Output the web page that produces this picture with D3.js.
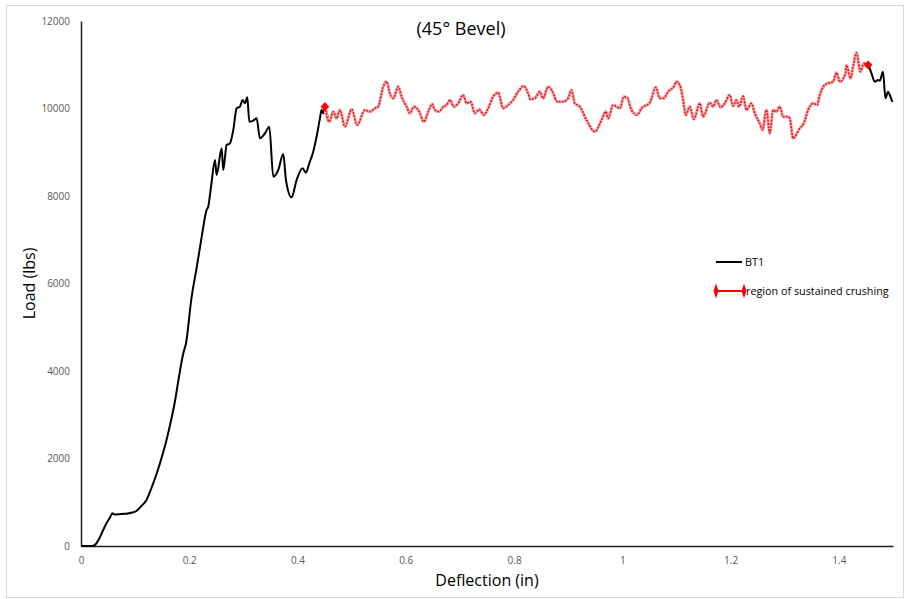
<!DOCTYPE html>
<html>
<head>
<meta charset="utf-8">
<script src="https://cdn.jsdelivr.net/npm/d3@7"></script>
<style>
  body { margin: 0; background: #fff; }
  svg { display: block; font-family: 'Open Sans', sans-serif; }
</style>
</head>
<body>
<svg id="chart" width="904" height="599"></svg>
<script>
// deflection (in) and load (lbs)
var deflection = [
  0, 0.02, 0.026, 0.035, 0.041, 0.047, 0.053, 0.058, 0.062, 0.08, 0.095, 0.103,
  0.112, 0.121, 0.13, 0.14, 0.149, 0.158, 0.166, 0.174, 0.18, 0.189, 0.194, 0.204,
  0.214, 0.223, 0.232, 0.235, 0.241, 0.2475, 0.2505, 0.2598, 0.2628, 0.269, 0.2752,
  0.2813, 0.2875, 0.2936, 0.2985, 0.3029, 0.3072, 0.3109, 0.3183, 0.3244, 0.3306,
  0.3398, 0.3478, 0.3552, 0.3644, 0.3736, 0.3786, 0.389, 0.3983, 0.4094, 0.4155,
  0.4217, 0.429, 0.4352, 0.4414, 0.4444, 0.4475, 0.4506,
  0.4586, 0.466, 0.4722, 0.4783, 0.4875, 0.4999, 0.5103, 0.5245, 0.5337, 0.5429,
  0.549, 0.5583, 0.5645, 0.5706, 0.5768, 0.586, 0.5922, 0.6015, 0.6076, 0.615,
  0.623, 0.6334, 0.6414, 0.6488, 0.6537, 0.6617, 0.6691, 0.6753, 0.6814, 0.6888,
  0.6968, 0.706, 0.7123, 0.7197, 0.7276, 0.7356, 0.7442, 0.7522, 0.7614, 0.7707,
  0.7799, 0.7891, 0.7983, 0.8076, 0.818, 0.826, 0.8304, 0.8384, 0.8476, 0.8537,
  0.863, 0.871, 0.8796, 0.8907, 0.8999, 0.9061, 0.9122, 0.9215, 0.9338, 0.9492,
  0.9616, 0.9695, 0.9738, 0.983, 0.9954, 1.0028, 1.0089, 1.0169, 1.0274, 1.0354,
  1.0508, 1.0619, 1.0693, 1.0766, 1.0846, 1.0951, 1.1, 1.1062, 1.1123, 1.1172,
  1.1246, 1.132, 1.1431, 1.1492, 1.1616, 1.1677, 1.1739, 1.1813, 1.1893, 1.1985,
  1.2046, 1.2108, 1.2157, 1.2231, 1.2293, 1.2385, 1.2447, 1.2539, 1.2589, 1.2662,
  1.2724, 1.2785, 1.2847, 1.2909, 1.297, 1.3062, 1.3093, 1.3154, 1.3278, 1.3352,
  1.3431, 1.3524, 1.3598, 1.3647, 1.3721, 1.3801, 1.3893, 1.3955, 1.4017, 1.4122,
  1.4141, 1.4215, 1.4264, 1.4325, 1.4399, 1.446, 1.454,
  1.4602, 1.4663, 1.4725, 1.4755, 1.4816, 1.486, 1.4909, 1.494, 1.499
];
var load = [
  0, 0, 30, 200, 366, 518, 640, 747, 720, 735, 765, 807,
  920, 1051, 1320, 1662, 2020, 2423, 2850, 3337, 3794, 4405, 4633, 5661,
  6384, 7070, 7680, 7756, 8290, 8823, 8480, 9090, 8594, 9166, 9204,
  9509, 10004, 10042, 10194, 10118, 10255, 9699, 9722, 9775, 9319,
  9433, 9585, 8442, 8594, 8960, 8366, 7970, 8366, 8633, 8533,
  8747, 9013, 9356, 9775, 9966, 9890, 10042,
  9699, 9927, 9775, 9966, 9585, 9981, 9623, 9966, 9927, 10004,
  10042, 10499, 10613, 10347, 10233, 10499, 10270, 10042, 9890, 10042,
  9966, 9699, 9927, 10103, 9966, 9927, 10042, 10080, 10194, 10042,
  10118, 10309, 10118, 10156, 9890, 9981, 9851, 10004, 10270, 10362,
  10004, 10080, 10194, 10385, 10514, 10347, 10210, 10233, 10385, 10233,
  10499, 10385, 10156, 10156, 10233, 10423, 10118, 10042, 9737, 9471,
  9737, 9927, 9775, 10080, 10004, 10270, 10247, 9966, 9851, 10004,
  10133, 10484, 10233, 10233, 10385, 10499, 10613, 10537, 10194, 9851,
  10042, 9753, 10118, 9813, 10133, 10042, 10194, 10027, 10118, 10309,
  10057, 10194, 10042, 10286, 9966, 10118, 9890, 9661, 9509, 9966,
  9433, 9966, 9927, 10042, 9813, 9813, 9775, 9319, 9547, 9661,
  9966, 10118, 10080, 10309, 10514, 10576, 10613, 10819, 10613, 10804,
  10994, 10690, 10956, 11276, 10842, 11033, 10994,
  10804, 10613, 10651, 10636, 10842, 10233, 10385, 10309, 10150
];
// start and end of the region of sustained crushing
var crushStart = 0.4506;
var crushEnd = 1.454;

var xTicks = [0, 0.2, 0.4, 0.6, 0.8, 1, 1.2, 1.4];
var yTicks = [0, 2000, 4000, 6000, 8000, 10000, 12000];
var seriesNames = ['BT1', 'region of sustained crushing'];

var svg = d3.select('#chart');
var margin = { top: 21, right: 11, bottom: 53, left: 81 };
var width = +svg.attr('width') - margin.left - margin.right;
var height = +svg.attr('height') - margin.top - margin.bottom;

var points = deflection.map(function(d, i) {
  return { x: d, y: load[i] };
});
var crushPoints = points.filter(function(d) {
  return d.x >= crushStart && d.x <= crushEnd;
});

// outer chart border
svg.append('rect')
  .attr('x', 6.5)
  .attr('y', 5.5)
  .attr('width', 897)
  .attr('height', 592)
  .attr('fill', 'none')
  .attr('stroke', '#d9d9d9');

var x = d3.scaleLinear().domain([0, 1.5]).range([0, width]);
var y = d3.scaleLinear().domain([0, 12000]).range([height, 0]);

var group = svg.append('g')
  .attr('transform', 'translate(' + margin.left + ', ' + margin.top + ')');

/*
 * Axes
 */
group.append('g')
  .attr('class', 'axis axis--x')
  .attr('transform', 'translate(0, ' + height + ')')
  .call(d3.axisBottom(x).tickValues(xTicks).tickSize(0).tickPadding(11).tickFormat(d3.format('~g')));

group.append('g')
  .attr('class', 'axis axis--y')
  .call(d3.axisLeft(y).tickValues(yTicks).tickSize(0).tickPadding(11).tickFormat(d3.format('d')));

group.selectAll('.axis path')
  .attr('stroke', '#222')
  .attr('stroke-width', 1.5);
group.selectAll('.axis text')
  .attr('font-family', "'Open Sans', sans-serif")
  .attr('font-size', 10)
  .attr('fill', '#595959');

/*
 * Lines
 */
var line = d3.line()
  .curve(d3.curveMonotoneX)
  .x(function(d) { return x(d.x); })
  .y(function(d) { return y(d.y); });

group.append('path')
  .datum(points)
  .attr('class', 'line line--bt1')
  .attr('fill', 'none')
  .attr('stroke', '#000')
  .attr('stroke-width', 2)
  .attr('stroke-linejoin', 'round')
  .attr('d', line);

group.append('path')
  .datum(crushPoints)
  .attr('fill', 'none')
  .attr('stroke', '#f6b3b3')
  .attr('stroke-width', 3.2)
  .attr('stroke-linejoin', 'round')
  .attr('d', line);

group.append('path')
  .datum(crushPoints)
  .attr('class', 'line line--crush')
  .attr('fill', 'none')
  .attr('stroke', '#e8141b')
  .attr('stroke-width', 1.6)
  .attr('stroke-dasharray', '2,1.2')
  .attr('d', line);

var diamond = d3.symbol().type(d3.symbolDiamond).size(38);
group.selectAll('.crush-end')
  .data([crushPoints[0], crushPoints[crushPoints.length - 1]])
  .enter().append('path')
  .attr('class', 'crush-end')
  .attr('transform', function(d) {
    return 'translate(' + x(d.x) + ', ' + y(d.y) + ') scale(1.3, 0.8)';
  })
  .attr('fill', '#ff0000')
  .attr('d', diamond);

/*
 * Titles
 */
svg.append('text')
  .attr('x', 461)
  .attr('y', 35)
  .attr('text-anchor', 'middle')
  .attr('font-size', 18)
  .attr('fill', '#000')
  .text('(45° Bevel)');

svg.append('text')
  .attr('x', margin.left + width / 2)
  .attr('y', 586)
  .attr('text-anchor', 'middle')
  .attr('font-size', 16)
  .attr('fill', '#000')
  .text('Deflection (in)');

svg.append('text')
  .attr('transform', 'translate(35, ' + (margin.top + height / 2) + ') rotate(-90)')
  .attr('text-anchor', 'middle')
  .attr('font-size', 16)
  .attr('fill', '#000')
  .text('Load (lbs)');

/*
 * Legend
 */
var legend = svg.append('g')
  .attr('transform', 'translate(716, 262)');

legend.append('line')
  .attr('x1', 0).attr('x2', 26)
  .attr('y1', 0).attr('y2', 0)
  .attr('stroke', '#000')
  .attr('stroke-width', 2);

legend.append('line')
  .attr('x1', 0).attr('x2', 28)
  .attr('y1', 29).attr('y2', 29)
  .attr('stroke', '#ff0000')
  .attr('stroke-width', 2);

legend.selectAll('.legend-marker')
  .data([0, 28])
  .enter().append('path')
  .attr('class', 'legend-marker')
  .attr('transform', function(d) { return 'translate(' + d + ', 29) scale(0.75, 1.3)'; })
  .attr('fill', '#ff0000')
  .attr('d', diamond);

legend.selectAll('.legend-label')
  .data(seriesNames)
  .enter().append('text')
  .attr('class', 'legend-label')
  .attr('x', function(d, i) { return i === 0 ? 29 : 30; })
  .attr('y', function(d, i) { return i * 29 + 4; })
  .attr('font-size', 10.8)
  .attr('fill', '#000')
  .text(function(d) { return d; });
</script>
</body>
</html>
